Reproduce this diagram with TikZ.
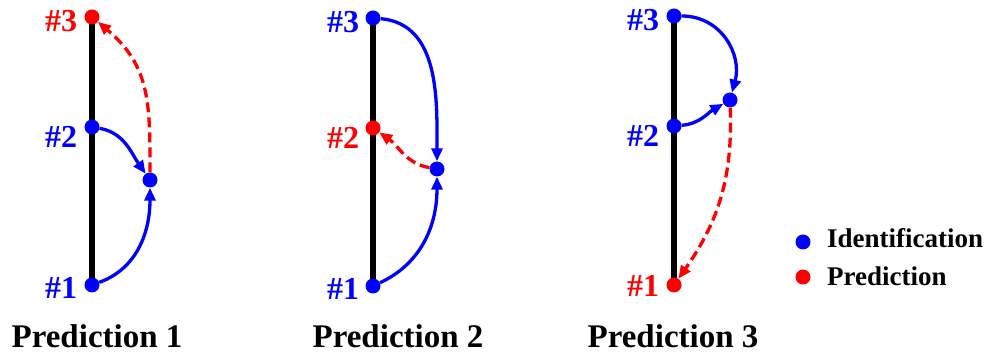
\documentclass[tikz,border=0pt]{standalone}
\usepackage{fontspec}
\setmainfont{Liberation Serif}
\usetikzlibrary{arrows.meta}
\definecolor{idblue}{RGB}{0,0,255}
\definecolor{prred}{RGB}{255,0,0}
\tikzset{
  iddot/.style={circle,fill=idblue,inner sep=0pt,minimum size=15pt},
  prdot/.style={circle,fill=prred,inner sep=0pt,minimum size=15pt},
  axisline/.style={line width=6pt,black},
  idarrow/.style={line width=3.3pt,idblue,-{Triangle[length=13pt,width=11pt]}},
  prarrow/.style={line width=3.3pt,prred,dash pattern=on 10pt off 5pt,-{Triangle[length=13pt,width=11pt]}},
  numlabel/.style={anchor=base west,inner sep=0pt,font=\fontsize{32}{36}\selectfont\bfseries},
  titlelabel/.style={anchor=base,inner sep=0pt,font=\fontsize{33}{38}\selectfont\bfseries},
  legendlabel/.style={anchor=base west,inner sep=0pt,font=\fontsize{27}{32}\selectfont\bfseries},
}
\begin{document}
\begin{tikzpicture}[x=1pt,y=1pt]
\useasboundingbox (0,0) rectangle (1002,356);
% ---------- Panel 1 ----------
\coordinate (a1) at (92,71);
\coordinate (a3) at (92,339);
\draw[axisline] (a1) -- (a3);
\node[iddot] (p1n1) at (92,71) {};
\node[iddot] (p1n2) at (92,229) {};
\node[prdot] (p1n3) at (92,339) {};
\node[iddot] (p1m) at (150,176) {};
\node[numlabel,text=idblue] (p1l1) at (45,57) {\#1};
\node[numlabel,text=idblue] (p1l2) at (45,208) {\#2};
\node[numlabel,text=prred] (p1l3) at (45,324) {\#3};
\draw[idarrow] (p1n2) to[out=-10,in=125] (p1m);
\draw[idarrow] (p1n1) to[out=20,in=-90] (p1m);
\draw[prarrow] (p1m) to[out=90,in=-40,looseness=1.1] (p1n3);
\node[titlelabel] (t1) at (97,8) {Prediction 1};
% ---------- Panel 2 ----------
\coordinate (b1) at (373,70);
\coordinate (b3) at (373,338);
\draw[axisline] (b1) -- (b3);
\node[iddot] (p2n1) at (373,70) {};
\node[prdot] (p2n2) at (373,228) {};
\node[iddot] (p2n3) at (373,338) {};
\node[iddot] (p2m) at (437,187) {};
\node[numlabel,text=idblue] (p2l1) at (327,56) {\#1};
\node[numlabel,text=prred] (p2l2) at (327,207) {\#2};
\node[numlabel,text=idblue] (p2l3) at (327,323) {\#3};
\draw[idarrow] (p2n3) to[out=-5,in=90] (p2m);
\draw[idarrow] (p2n1) to[out=25,in=-90] (p2m);
\draw[prarrow] (p2m) to[out=170,in=-35] (p2n2);
\node[titlelabel] (t2) at (398,8) {Prediction 2};
% ---------- Panel 3 ----------
\coordinate (c1) at (674,71);
\coordinate (c3) at (674,340);
\draw[axisline] (c1) -- (c3);
\node[prdot] (p3n1) at (674,71) {};
\node[iddot] (p3n2) at (674,230) {};
\node[iddot] (p3n3) at (674,340) {};
\node[iddot] (p3m) at (730,256) {};
\node[numlabel,text=prred] (p3l1) at (627,59) {\#1};
\node[numlabel,text=idblue] (p3l2) at (627,209) {\#2};
\node[numlabel,text=idblue] (p3l3) at (627,325) {\#3};
\draw[idarrow] (p3n3) to[out=0,in=75,looseness=1.1] (p3m);
\draw[idarrow] (p3n2) to[out=5,in=-150] (p3m);
\draw[prarrow] (p3m) to[out=-88,in=55] (p3n1);
\node[titlelabel] (t3) at (673,8) {Prediction 3};
% ---------- Legend ----------
\node[iddot] (lgid) at (803,114) {};
\node[prdot] (lgpr) at (803,79) {};
\node[legendlabel] (lgidt) at (827,108) {Identification};
\node[legendlabel] (lgprt) at (827,70) {Prediction};
\end{tikzpicture}
\end{document}
